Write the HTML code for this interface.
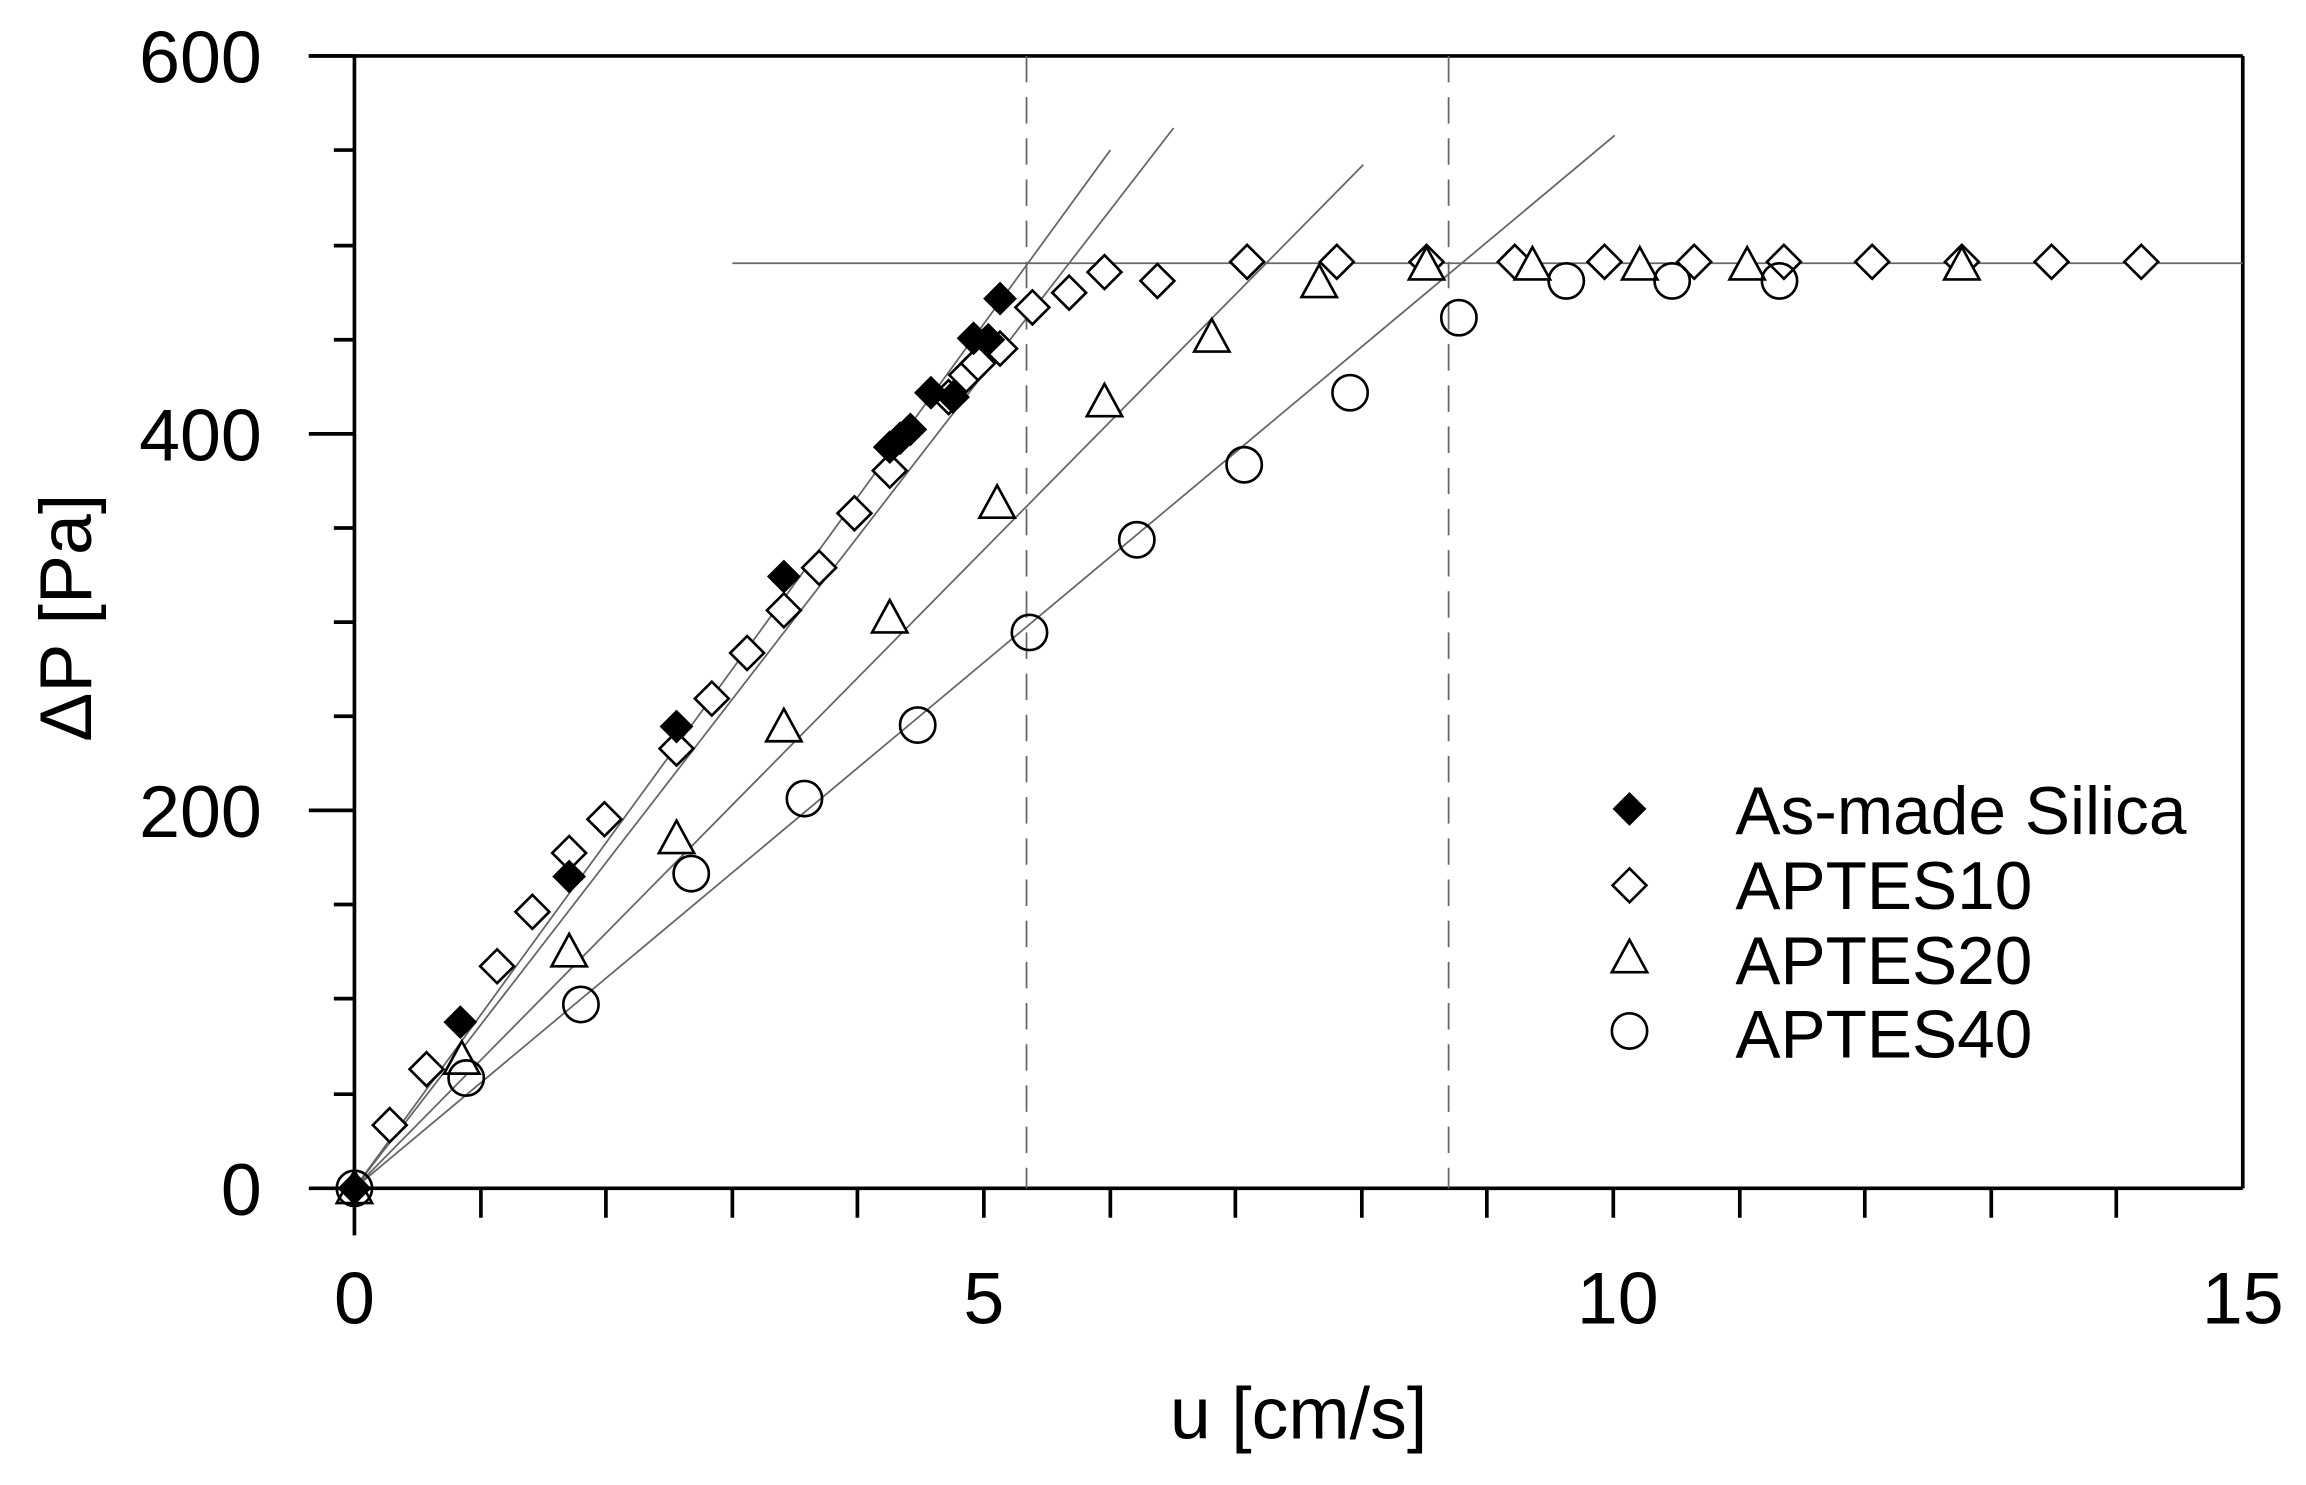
<!DOCTYPE html>
<html><head><style>html,body{margin:0;padding:0;background:#fff}svg{display:block}</style></head><body>
<svg width="2306" height="1485" viewBox="0 0 1568 1009.7" xmlns="http://www.w3.org/2000/svg" font-family="Liberation Sans, sans-serif">
<defs>
<path id="dm" d="M0,-11.5 L11.5,0 L0,11.5 L-11.5,0Z"/>
<path id="tr" d="M0,-12 L12,10 L-12,10Z"/>
</defs>
<g stroke="#000" stroke-width="2.5" fill="none">
<line x1="210" y1="38" x2="1525" y2="38"/>
<line x1="1525" y1="38" x2="1525" y2="808"/>
<line x1="241" y1="38" x2="241" y2="840"/>
<line x1="210" y1="808" x2="1525" y2="808"/>
<path d="M210,551H241M210,295H241M210,38H241M227,744H241M227,679H241M227,615H241M227,487H241M227,423H241M227,359H241M227,231H241M227,167H241M227,102H241"/>
<path d="M327,808V828M412,808V828M498,808V828M583,808V828M669,808V828M755,808V828M840,808V828M926,808V828M1011,808V828M1097,808V828M1183,808V828M1268,808V828M1354,808V828M1439,808V828"/>
</g>
<g stroke="#666" stroke-width="1.2" fill="none">
<line x1="498" y1="179" x2="1525" y2="179"/>
<line x1="241" y1="808" x2="755" y2="102"/>
<line x1="241" y1="808" x2="798" y2="87"/>
<line x1="241" y1="808" x2="927" y2="112"/>
<line x1="241" y1="808" x2="1098" y2="92"/>
<line x1="698" y1="38" x2="698" y2="808" stroke-dasharray="18,10"/>
<line x1="985" y1="38" x2="985" y2="808" stroke-dasharray="18,10"/>
</g>
<g fill="#fff" stroke="#000" stroke-width="1.8">
<g>
<use href="#dm" x="265" y="765"/><use href="#dm" x="290" y="727"/><use href="#dm" x="338" y="657"/><use href="#dm" x="362" y="620"/><use href="#dm" x="387" y="580"/><use href="#dm" x="411" y="557"/><use href="#dm" x="460" y="509"/><use href="#dm" x="484" y="475"/><use href="#dm" x="508" y="444"/><use href="#dm" x="533" y="415"/><use href="#dm" x="557" y="386"/><use href="#dm" x="581" y="349"/><use href="#dm" x="605" y="320"/><use href="#dm" x="645" y="270"/><use href="#dm" x="657" y="255"/><use href="#dm" x="665" y="247"/><use href="#dm" x="680" y="237"/><use href="#dm" x="702" y="209"/><use href="#dm" x="727" y="199"/><use href="#dm" x="751" y="185"/><use href="#dm" x="787" y="191"/><use href="#dm" x="848" y="178"/><use href="#dm" x="909" y="178"/><use href="#dm" x="970" y="178"/><use href="#dm" x="1030" y="178"/><use href="#dm" x="1091" y="178"/><use href="#dm" x="1152" y="178"/><use href="#dm" x="1213" y="178"/><use href="#dm" x="1273" y="178"/><use href="#dm" x="1334" y="178"/><use href="#dm" x="1395" y="178"/><use href="#dm" x="1456" y="178"/>
</g>
<use href="#tr" x="241" y="808"/><use href="#tr" x="314" y="720"/><use href="#tr" x="387" y="647"/><use href="#tr" x="460" y="570"/><use href="#tr" x="533" y="494"/><use href="#tr" x="605" y="420"/><use href="#tr" x="678" y="342"/><use href="#tr" x="751" y="273"/><use href="#tr" x="824" y="229"/><use href="#tr" x="897" y="192"/><use href="#tr" x="970" y="180"/><use href="#tr" x="1042" y="180"/><use href="#tr" x="1115" y="180"/><use href="#tr" x="1188" y="180"/><use href="#tr" x="1334" y="180"/>
<g fill="none">
<circle cx="241" cy="808" r="12"/><circle cx="317" cy="733" r="12"/><circle cx="395" cy="683" r="12"/><circle cx="470" cy="594" r="12"/><circle cx="547" cy="543" r="12"/><circle cx="624" cy="493" r="12"/><circle cx="700" cy="430" r="12"/><circle cx="773" cy="367" r="12"/><circle cx="846" cy="316" r="12"/><circle cx="918" cy="267" r="12"/><circle cx="992" cy="216" r="12"/><circle cx="1065" cy="191" r="12"/><circle cx="1137" cy="191" r="12"/><circle cx="1210" cy="191" r="12"/>
</g>
</g>
<g fill="#000">
<use href="#dm" x="241" y="808"/><use href="#dm" x="313" y="695"/><use href="#dm" x="387" y="596"/><use href="#dm" x="460" y="494"/><use href="#dm" x="533" y="392"/><use href="#dm" x="605" y="304"/><use href="#dm" x="612" y="298"/><use href="#dm" x="619" y="292"/><use href="#dm" x="633" y="267"/><use href="#dm" x="648" y="270"/><use href="#dm" x="662" y="230"/><use href="#dm" x="672" y="231"/><use href="#dm" x="680" y="203"/>
<use href="#dm" x="1108" y="550"/>
</g>
<g fill="#fff" stroke="#000" stroke-width="1.8">
<use href="#dm" x="1108" y="602"/><use href="#tr" x="1108" y="651"/><circle cx="1108" cy="701" r="12"/>
</g>
<g font-size="46" fill="#000">
<text x="1180" y="567">As-made Silica</text>
<text x="1180" y="618">APTES10</text>
<text x="1180" y="669">APTES20</text>
<text x="1180" y="719">APTES40</text>
</g>
<g font-size="50" fill="#000">
<g text-anchor="end">
<text x="178" y="56">600</text><text x="178" y="313">400</text><text x="178" y="569">200</text><text x="178" y="826">0</text>
</g>
<g text-anchor="middle">
<text x="241" y="900">0</text><text x="669" y="900">5</text><text x="1100" y="900">10</text><text x="1525" y="900">15</text>
<text x="883" y="978">u [cm/s]</text>
<text transform="translate(62,420) rotate(-90)">ΔP [Pa]</text>
</g>
</g>
</svg>
</body></html>
